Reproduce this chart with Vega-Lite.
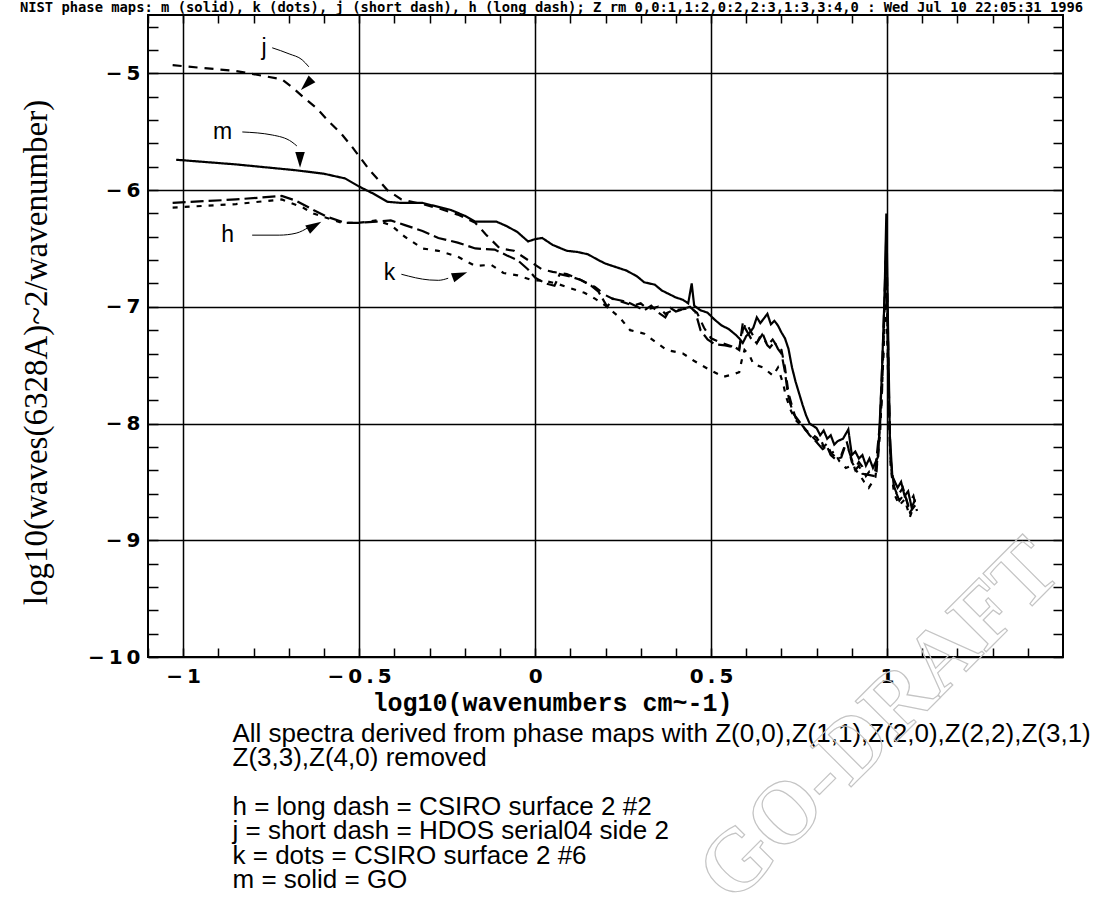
{
  "$schema": "https://vega.github.io/schema/vega-lite/v6.json",
  "width": 915,
  "height": 642,
  "autosize": {"type": "none"},
  "padding": {"left": 148, "top": 15, "right": 41, "bottom": 247},
  "background": "white",
  "config": {"view": {"stroke": "black", "strokeWidth": 2}, "axis": {"domain": false}},
  "datasets": {
    "spectra": [
      {"series":"m","x":-1.02,"y":-5.74},{"series":"m","x":-0.85,"y":-5.78},{"series":"m","x":-0.68,"y":-5.83},{"series":"m","x":-0.6,"y":-5.86},{"series":"m","x":-0.54,"y":-5.9},{"series":"m","x":-0.5,"y":-5.97},{"series":"m","x":-0.46,"y":-6.03},{"series":"m","x":-0.42,"y":-6.1},{"series":"m","x":-0.38,"y":-6.11},{"series":"m","x":-0.32,"y":-6.11},{"series":"m","x":-0.28,"y":-6.14},{"series":"m","x":-0.24,"y":-6.17},{"series":"m","x":-0.2,"y":-6.22},{"series":"m","x":-0.17,"y":-6.27},{"series":"m","x":-0.11,"y":-6.27},{"series":"m","x":-0.08,"y":-6.31},{"series":"m","x":-0.05,"y":-6.36},{"series":"m","x":-0.02,"y":-6.44},{"series":"m","x":0.0,"y":-6.42},{"series":"m","x":0.02,"y":-6.41},{"series":"m","x":0.05,"y":-6.47},{"series":"m","x":0.09,"y":-6.52},{"series":"m","x":0.12,"y":-6.53},{"series":"m","x":0.15,"y":-6.55},{"series":"m","x":0.18,"y":-6.6},{"series":"m","x":0.2,"y":-6.63},{"series":"m","x":0.23,"y":-6.66},{"series":"m","x":0.26,"y":-6.69},{"series":"m","x":0.29,"y":-6.74},{"series":"m","x":0.31,"y":-6.79},{"series":"m","x":0.34,"y":-6.81},{"series":"m","x":0.36,"y":-6.86},{"series":"m","x":0.38,"y":-6.89},{"series":"m","x":0.4,"y":-6.92},{"series":"m","x":0.42,"y":-6.94},{"series":"m","x":0.435,"y":-6.97},{"series":"m","x":0.445,"y":-6.8},{"series":"m","x":0.452,"y":-6.99},{"series":"m","x":0.47,"y":-7.03},{"series":"m","x":0.49,"y":-7.05},{"series":"m","x":0.51,"y":-7.11},{"series":"m","x":0.53,"y":-7.16},{"series":"m","x":0.55,"y":-7.19},{"series":"m","x":0.57,"y":-7.24},{"series":"m","x":0.58,"y":-7.27},{"series":"m","x":0.59,"y":-7.31},{"series":"m","x":0.6,"y":-7.25},{"series":"m","x":0.61,"y":-7.22},{"series":"m","x":0.62,"y":-7.18},{"series":"m","x":0.63,"y":-7.09},{"series":"m","x":0.64,"y":-7.14},{"series":"m","x":0.65,"y":-7.1},{"series":"m","x":0.66,"y":-7.06},{"series":"m","x":0.67,"y":-7.15},{"series":"m","x":0.68,"y":-7.12},{"series":"m","x":0.69,"y":-7.16},{"series":"m","x":0.7,"y":-7.22},{"series":"m","x":0.71,"y":-7.27},{"series":"m","x":0.72,"y":-7.36},{"series":"m","x":0.73,"y":-7.52},{"series":"m","x":0.74,"y":-7.64},{"series":"m","x":0.75,"y":-7.74},{"series":"m","x":0.76,"y":-7.84},{"series":"m","x":0.77,"y":-7.93},{"series":"m","x":0.78,"y":-8.0},{"series":"m","x":0.8,"y":-8.04},{"series":"m","x":0.81,"y":-8.1},{"series":"m","x":0.82,"y":-8.06},{"series":"m","x":0.83,"y":-8.13},{"series":"m","x":0.84,"y":-8.1},{"series":"m","x":0.85,"y":-8.18},{"series":"m","x":0.86,"y":-8.15},{"series":"m","x":0.875,"y":-8.13},{"series":"m","x":0.89,"y":-8.05},{"series":"m","x":0.9,"y":-8.27},{"series":"m","x":0.91,"y":-8.24},{"series":"m","x":0.92,"y":-8.3},{"series":"m","x":0.93,"y":-8.27},{"series":"m","x":0.94,"y":-8.36},{"series":"m","x":0.95,"y":-8.3},{"series":"m","x":0.96,"y":-8.38},{"series":"m","x":0.975,"y":-8.28},{"series":"m","x":0.985,"y":-7.6},{"series":"m","x":0.993,"y":-6.9},{"series":"m","x":0.998,"y":-6.2},{"series":"m","x":1.003,"y":-7.2},{"series":"m","x":1.008,"y":-8.1},{"series":"m","x":1.015,"y":-8.45},{"series":"m","x":1.03,"y":-8.55},{"series":"m","x":1.04,"y":-8.5},{"series":"m","x":1.05,"y":-8.62},{"series":"m","x":1.06,"y":-8.58},{"series":"m","x":1.07,"y":-8.72},{"series":"m","x":1.08,"y":-8.65},
      {"series":"j","x":-1.03,"y":-4.93},{"series":"j","x":-0.85,"y":-4.98},{"series":"j","x":-0.72,"y":-5.05},{"series":"j","x":-0.69,"y":-5.12},{"series":"j","x":-0.66,"y":-5.2},{"series":"j","x":-0.62,"y":-5.3},{"series":"j","x":-0.59,"y":-5.4},{"series":"j","x":-0.55,"y":-5.52},{"series":"j","x":-0.52,"y":-5.63},{"series":"j","x":-0.49,"y":-5.75},{"series":"j","x":-0.47,"y":-5.83},{"series":"j","x":-0.44,"y":-5.93},{"series":"j","x":-0.42,"y":-6.0},{"series":"j","x":-0.38,"y":-6.08},{"series":"j","x":-0.32,"y":-6.12},{"series":"j","x":-0.27,"y":-6.16},{"series":"j","x":-0.22,"y":-6.21},{"series":"j","x":-0.17,"y":-6.28},{"series":"j","x":-0.14,"y":-6.38},{"series":"j","x":-0.1,"y":-6.5},{"series":"j","x":-0.06,"y":-6.52},{"series":"j","x":-0.02,"y":-6.6},{"series":"j","x":0.02,"y":-6.68},{"series":"j","x":0.05,"y":-6.7},{"series":"j","x":0.09,"y":-6.72},{"series":"j","x":0.13,"y":-6.77},{"series":"j","x":0.17,"y":-6.83},{"series":"j","x":0.2,"y":-6.9},{"series":"j","x":0.22,"y":-6.93},{"series":"j","x":0.25,"y":-6.96},{"series":"j","x":0.28,"y":-6.99},{"series":"j","x":0.3,"y":-6.97},{"series":"j","x":0.32,"y":-7.02},{"series":"j","x":0.35,"y":-7.0},{"series":"j","x":0.37,"y":-7.06},{"series":"j","x":0.39,"y":-7.03},{"series":"j","x":0.42,"y":-7.02},{"series":"j","x":0.44,"y":-7.01},{"series":"j","x":0.46,"y":-7.05},{"series":"j","x":0.48,"y":-7.18},{"series":"j","x":0.5,"y":-7.27},{"series":"j","x":0.53,"y":-7.31},{"series":"j","x":0.56,"y":-7.34},{"series":"j","x":0.58,"y":-7.36},{"series":"j","x":0.59,"y":-7.2},{"series":"j","x":0.6,"y":-7.14},{"series":"j","x":0.62,"y":-7.25},{"series":"j","x":0.63,"y":-7.31},{"series":"j","x":0.645,"y":-7.22},{"series":"j","x":0.66,"y":-7.33},{"series":"j","x":0.675,"y":-7.28},{"series":"j","x":0.69,"y":-7.35},{"series":"j","x":0.7,"y":-7.37},{"series":"j","x":0.71,"y":-7.52},{"series":"j","x":0.72,"y":-7.74},{"series":"j","x":0.73,"y":-7.85},{"series":"j","x":0.74,"y":-7.95},{"series":"j","x":0.76,"y":-8.02},{"series":"j","x":0.78,"y":-8.09},{"series":"j","x":0.8,"y":-8.15},{"series":"j","x":0.81,"y":-8.12},{"series":"j","x":0.82,"y":-8.2},{"series":"j","x":0.83,"y":-8.17},{"series":"j","x":0.84,"y":-8.25},{"series":"j","x":0.855,"y":-8.29},{"series":"j","x":0.87,"y":-8.27},{"series":"j","x":0.885,"y":-8.15},{"series":"j","x":0.9,"y":-8.33},{"series":"j","x":0.91,"y":-8.38},{"series":"j","x":0.92,"y":-8.33},{"series":"j","x":0.93,"y":-8.37},{"series":"j","x":0.94,"y":-8.45},{"series":"j","x":0.95,"y":-8.41},{"series":"j","x":0.97,"y":-8.42},{"series":"j","x":0.985,"y":-7.8},{"series":"j","x":0.993,"y":-7.0},{"series":"j","x":0.998,"y":-6.35},{"series":"j","x":1.003,"y":-7.3},{"series":"j","x":1.008,"y":-8.2},{"series":"j","x":1.015,"y":-8.5},{"series":"j","x":1.03,"y":-8.62},{"series":"j","x":1.045,"y":-8.55},{"series":"j","x":1.06,"y":-8.7},{"series":"j","x":1.075,"y":-8.62},{"series":"j","x":1.085,"y":-8.75},
      {"series":"h","x":-1.03,"y":-6.11},{"series":"h","x":-0.85,"y":-6.08},{"series":"h","x":-0.72,"y":-6.05},{"series":"h","x":-0.68,"y":-6.09},{"series":"h","x":-0.63,"y":-6.17},{"series":"h","x":-0.59,"y":-6.23},{"series":"h","x":-0.54,"y":-6.28},{"series":"h","x":-0.5,"y":-6.28},{"series":"h","x":-0.45,"y":-6.27},{"series":"h","x":-0.41,"y":-6.26},{"series":"h","x":-0.37,"y":-6.3},{"series":"h","x":-0.32,"y":-6.35},{"series":"h","x":-0.275,"y":-6.41},{"series":"h","x":-0.22,"y":-6.45},{"series":"h","x":-0.17,"y":-6.5},{"series":"h","x":-0.115,"y":-6.51},{"series":"h","x":-0.08,"y":-6.56},{"series":"h","x":-0.05,"y":-6.6},{"series":"h","x":-0.02,"y":-6.68},{"series":"h","x":0.0,"y":-6.75},{"series":"h","x":0.03,"y":-6.8},{"series":"h","x":0.055,"y":-6.82},{"series":"h","x":0.07,"y":-6.72},{"series":"h","x":0.1,"y":-6.74},{"series":"h","x":0.13,"y":-6.77},{"series":"h","x":0.16,"y":-6.82},{"series":"h","x":0.18,"y":-6.87},{"series":"h","x":0.205,"y":-7.0},{"series":"h","x":0.22,"y":-6.93},{"series":"h","x":0.25,"y":-6.95},{"series":"h","x":0.27,"y":-6.97},{"series":"h","x":0.29,"y":-7.0},{"series":"h","x":0.31,"y":-7.03},{"series":"h","x":0.33,"y":-6.99},{"series":"h","x":0.35,"y":-7.05},{"series":"h","x":0.37,"y":-7.09},{"series":"h","x":0.385,"y":-7.01},{"series":"h","x":0.4,"y":-7.04},{"series":"h","x":0.42,"y":-7.02},{"series":"h","x":0.44,"y":-7.0},{"series":"h","x":0.455,"y":-7.04},{"series":"h","x":0.47,"y":-7.2},{"series":"h","x":0.49,"y":-7.28},{"series":"h","x":0.51,"y":-7.32},{"series":"h","x":0.54,"y":-7.33},{"series":"h","x":0.57,"y":-7.35},{"series":"h","x":0.58,"y":-7.37},{"series":"h","x":0.585,"y":-7.25},{"series":"h","x":0.59,"y":-7.14},{"series":"h","x":0.6,"y":-7.2},{"series":"h","x":0.615,"y":-7.28},{"series":"h","x":0.63,"y":-7.31},{"series":"h","x":0.645,"y":-7.24},{"series":"h","x":0.66,"y":-7.33},{"series":"h","x":0.667,"y":-7.35},{"series":"h","x":0.68,"y":-7.3},{"series":"h","x":0.69,"y":-7.36},{"series":"h","x":0.7,"y":-7.4},{"series":"h","x":0.71,"y":-7.56},{"series":"h","x":0.718,"y":-7.74},{"series":"h","x":0.725,"y":-7.83},{"series":"h","x":0.735,"y":-7.92},{"series":"h","x":0.75,"y":-7.98},{"series":"h","x":0.78,"y":-8.1},{"series":"h","x":0.8,"y":-8.16},{"series":"h","x":0.817,"y":-8.22},{"series":"h","x":0.83,"y":-8.2},{"series":"h","x":0.84,"y":-8.27},{"series":"h","x":0.855,"y":-8.31},{"series":"h","x":0.87,"y":-8.29},{"series":"h","x":0.88,"y":-8.2},{"series":"h","x":0.89,"y":-8.22},{"series":"h","x":0.91,"y":-8.4},{"series":"h","x":0.92,"y":-8.36},{"series":"h","x":0.93,"y":-8.43},{"series":"h","x":0.948,"y":-8.44},{"series":"h","x":0.965,"y":-8.45},{"series":"h","x":0.98,"y":-8.0},{"series":"h","x":0.99,"y":-7.2},{"series":"h","x":0.997,"y":-6.5},{"series":"h","x":1.003,"y":-7.5},{"series":"h","x":1.01,"y":-8.3},{"series":"h","x":1.02,"y":-8.55},{"series":"h","x":1.035,"y":-8.66},{"series":"h","x":1.05,"y":-8.6},{"series":"h","x":1.065,"y":-8.76},{"series":"h","x":1.08,"y":-8.7},
      {"series":"k","x":-1.03,"y":-6.15},{"series":"k","x":-0.85,"y":-6.12},{"series":"k","x":-0.72,"y":-6.08},{"series":"k","x":-0.66,"y":-6.15},{"series":"k","x":-0.63,"y":-6.2},{"series":"k","x":-0.58,"y":-6.25},{"series":"k","x":-0.55,"y":-6.28},{"series":"k","x":-0.5,"y":-6.28},{"series":"k","x":-0.45,"y":-6.26},{"series":"k","x":-0.41,"y":-6.3},{"series":"k","x":-0.37,"y":-6.4},{"series":"k","x":-0.32,"y":-6.5},{"series":"k","x":-0.275,"y":-6.52},{"series":"k","x":-0.22,"y":-6.57},{"series":"k","x":-0.17,"y":-6.65},{"series":"k","x":-0.125,"y":-6.64},{"series":"k","x":-0.09,"y":-6.71},{"series":"k","x":-0.05,"y":-6.73},{"series":"k","x":-0.01,"y":-6.77},{"series":"k","x":0.03,"y":-6.78},{"series":"k","x":0.06,"y":-6.8},{"series":"k","x":0.1,"y":-6.84},{"series":"k","x":0.14,"y":-6.88},{"series":"k","x":0.17,"y":-6.93},{"series":"k","x":0.2,"y":-6.99},{"series":"k","x":0.22,"y":-7.04},{"series":"k","x":0.24,"y":-7.09},{"series":"k","x":0.27,"y":-7.2},{"series":"k","x":0.31,"y":-7.23},{"series":"k","x":0.337,"y":-7.29},{"series":"k","x":0.374,"y":-7.37},{"series":"k","x":0.42,"y":-7.4},{"series":"k","x":0.45,"y":-7.46},{"series":"k","x":0.496,"y":-7.54},{"series":"k","x":0.535,"y":-7.6},{"series":"k","x":0.56,"y":-7.58},{"series":"k","x":0.58,"y":-7.56},{"series":"k","x":0.587,"y":-7.46},{"series":"k","x":0.595,"y":-7.37},{"series":"k","x":0.61,"y":-7.42},{"series":"k","x":0.62,"y":-7.49},{"series":"k","x":0.648,"y":-7.52},{"series":"k","x":0.676,"y":-7.59},{"series":"k","x":0.69,"y":-7.52},{"series":"k","x":0.705,"y":-7.66},{"series":"k","x":0.713,"y":-7.77},{"series":"k","x":0.727,"y":-7.89},{"series":"k","x":0.74,"y":-7.97},{"series":"k","x":0.77,"y":-8.06},{"series":"k","x":0.8,"y":-8.12},{"series":"k","x":0.82,"y":-8.2},{"series":"k","x":0.835,"y":-8.26},{"series":"k","x":0.85,"y":-8.24},{"series":"k","x":0.864,"y":-8.32},{"series":"k","x":0.883,"y":-8.38},{"series":"k","x":0.9,"y":-8.36},{"series":"k","x":0.92,"y":-8.43},{"series":"k","x":0.935,"y":-8.5},{"series":"k","x":0.948,"y":-8.55},{"series":"k","x":0.967,"y":-8.46},{"series":"k","x":0.98,"y":-8.1},{"series":"k","x":0.99,"y":-7.4},{"series":"k","x":0.997,"y":-6.8},{"series":"k","x":1.003,"y":-7.6},{"series":"k","x":1.01,"y":-8.35},{"series":"k","x":1.02,"y":-8.6},{"series":"k","x":1.035,"y":-8.7},{"series":"k","x":1.05,"y":-8.65},{"series":"k","x":1.065,"y":-8.8},{"series":"k","x":1.075,"y":-8.72}
    ],
    "leaders": [
      {"label":"j","x":-0.747,"y":-4.781},{"label":"j","x":-0.699,"y":-4.833},{"label":"j","x":-0.662,"y":-4.884},{"label":"j","x":-0.643,"y":-4.944},
      {"label":"m","x":-0.832,"y":-5.502},{"label":"m","x":-0.747,"y":-5.528},{"label":"m","x":-0.691,"y":-5.588},{"label":"m","x":-0.677,"y":-5.622},
      {"label":"h","x":-0.804,"y":-6.386},{"label":"h","x":-0.727,"y":-6.386},{"label":"h","x":-0.679,"y":-6.369},{"label":"h","x":-0.643,"y":-6.318},
      {"label":"k","x":-0.38,"y":-6.721},{"label":"k","x":-0.3,"y":-6.77},{"label":"k","x":-0.275,"y":-6.773},{"label":"k","x":-0.247,"y":-6.755}
    ],
    "labels": [
      {"label":"j","x":-0.77,"y":-4.78},
      {"label":"m","x":-0.888,"y":-5.502},
      {"label":"h","x":-0.874,"y":-6.386},
      {"label":"k","x":-0.414,"y":-6.712}
    ],
    "arrows": [
      {"label":"j","x":-0.648,"y":-5.09},
      {"label":"m","x":-0.668,"y":-5.734},
      {"label":"h","x":-0.629,"y":-6.309},
      {"label":"k","x":-0.216,"y":-6.73}
    ],
    "watermark": [
      {"text":"GO-DRAFT","x":0.98,"y":-10.55}
    ]
  },
  "layer": [
    {
      "data": {"name": "watermark"},
      "mark": {"type": "text", "font": "Liberation Serif", "fontWeight": "bold", "fontSize": 88, "angle": -45, "align": "center", "baseline": "middle", "fill": "transparent", "stroke": "#c4c4c4", "strokeWidth": 1.2},
      "encoding": {
        "x": {"field": "x", "type": "quantitative", "scale": {"domain": [-1.1, 1.5], "nice": false, "zero": false},
          "axis": {"orient": "bottom", "ticks": false, "labels": false, "grid": false, "domain": false, "values": [],
            "title": ["h = long dash = CSIRO surface 2 #2", "j = short dash = HDOS serial04 side 2", "k = dots = CSIRO surface 2 #6", "m = solid = GO"],
            "titleFont": "Liberation Sans", "titleFontSize": 26, "titleFontWeight": "normal", "titleColor": "black", "titleLineHeight": 24.5,
            "titleX": 84, "titleY": 136, "titleAlign": "left", "titleBaseline": "top", "titleAnchor": "start"}},
        "y": {"field": "y", "type": "quantitative", "scale": {"domain": [-10, -4.5], "nice": false, "zero": false}, "axis": null},
        "text": {"field": "text"}
      }
    },
    {
      "data": {"name": "spectra"},
      "mark": {"type": "line", "color": "black", "strokeWidth": 2.2, "clip": true},
      "encoding": {
        "x": {"field": "x", "type": "quantitative", "scale": {"domain": [-1.1, 1.5], "nice": false, "zero": false},
          "axis": {"orient": "bottom", "values": [-1, -0.5, 0, 0.5, 1], "format": "~r", "grid": true, "gridColor": "black", "gridWidth": 1.5, "gridOpacity": 1, "ticks": false, "domain": false,
            "labelFont": "DejaVu Sans", "labelFontWeight": "bold", "labelFontSize": 20, "labelColor": "black", "labelPadding": 9,
            "labelExpr": "replace(datum.label, regexp('(.)(?=.)', 'g'), '$1\u2009')",
            "title": "log10(wavenumbers cm~-1)", "titleFont": "Liberation Mono", "titleFontSize": 25, "titleFontWeight": "bold", "titleColor": "black",
            "titleX": 404, "titleY": 53, "titleBaseline": "alphabetic", "titleAlign": "center"}},
        "y": {"field": "y", "type": "quantitative", "scale": {"domain": [-10, -4.5], "nice": false, "zero": false},
          "axis": {"orient": "left", "values": [-10, -9, -8, -7, -6, -5], "format": "~r", "grid": true, "gridColor": "black", "gridWidth": 1.5, "gridOpacity": 1, "ticks": false, "domain": false,
            "labelFont": "DejaVu Sans", "labelFontWeight": "bold", "labelFontSize": 20, "labelColor": "black", "labelPadding": 8,
            "labelExpr": "replace(datum.label, regexp('(.)(?=.)', 'g'), '$1\u2009')",
            "title": "log10(waves(6328A)~2/wavenumber)", "titleFont": "Liberation Serif", "titleFontSize": 33, "titleFontWeight": "normal", "titleColor": "black",
            "titleX": -112, "titleY": 337, "titleBaseline": "middle", "titleAlign": "center", "titleAngle": -90}},
        "strokeDash": {"field": "series", "type": "nominal", "scale": {"domain": ["h", "j", "k", "m"], "range": [[13, 5], [9, 7], [5, 7], [1, 0]]}, "legend": null},
        "detail": {"field": "series"}
      }
    },
    {
      "data": {"name": "leaders"},
      "mark": {"type": "line", "color": "black", "strokeWidth": 1, "interpolate": "monotone"},
      "encoding": {
        "x": {"field": "x", "type": "quantitative", "scale": {"domain": [-1.1, 1.5], "nice": false, "zero": false},
          "axis": {"orient": "bottom", "values": [-1.1,-1,-0.9,-0.8,-0.7,-0.6,-0.5,-0.4,-0.3,-0.2,-0.1,0,0.1,0.2,0.3,0.4,0.5,0.6,0.7,0.8,0.9,1,1.1,1.2,1.3,1.4], "labels": false, "grid": false, "ticks": true, "tickSize": -9, "tickColor": "black", "tickWidth": 1.5, "domain": false,
            "title": ["All spectra derived from phase maps with Z(0,0),Z(1,1),Z(2,0),Z(2,2),Z(3,1)", "Z(3,3),Z(4,0) removed"],
            "titleFont": "Liberation Sans", "titleFontSize": 26, "titleFontWeight": "normal", "titleColor": "black", "titleLineHeight": 24.5,
            "titleX": 84, "titleY": 63, "titleAlign": "left", "titleBaseline": "top", "titleAnchor": "start"}},
        "y": {"field": "y", "type": "quantitative", "scale": {"domain": [-10, -4.5], "nice": false, "zero": false},
          "axis": {"orient": "left", "values": [-10,-9.8,-9.6,-9.4,-9.2,-9,-8.8,-8.6,-8.4,-8.2,-8,-7.8,-7.6,-7.4,-7.2,-7,-6.8,-6.6,-6.4,-6.2,-6,-5.8,-5.6,-5.4,-5.2,-5,-4.8,-4.6], "labels": false, "grid": false, "ticks": true, "tickSize": -10, "tickColor": "black", "tickWidth": 1.5, "domain": false, "title": null}},
        "detail": {"field": "label"}
      }
    },
    {
      "data": {"name": "labels"},
      "mark": {"type": "text", "font": "Liberation Sans", "fontSize": 23, "color": "black", "align": "center", "baseline": "middle"},
      "encoding": {
        "x": {"field": "x", "type": "quantitative", "scale": {"domain": [-1.1, 1.5], "nice": false, "zero": false},
          "axis": {"orient": "top", "values": [-1.1,-1,-0.9,-0.8,-0.7,-0.6,-0.5,-0.4,-0.3,-0.2,-0.1,0,0.1,0.2,0.3,0.4,0.5,0.6,0.7,0.8,0.9,1,1.1,1.2,1.3,1.4], "labels": false, "grid": false, "ticks": true, "tickSize": -8, "tickColor": "black", "tickWidth": 1.5, "domain": false,
            "title": "NIST phase maps: m (solid), k (dots), j (short dash), h (long dash); Z rm 0,0:1,1:2,0:2,2:3,1:3,3:4,0 : Wed Jul 10 22:05:31 1996",
            "titleFont": "DejaVu Sans Mono", "titleFontSize": 13.8, "titleFontWeight": "bold", "titleColor": "black", "titleX": 403, "titleY": -4, "titleBaseline": "alphabetic", "titleAlign": "center"}},
        "y": {"field": "y", "type": "quantitative", "scale": {"domain": [-10, -4.5], "nice": false, "zero": false},
          "axis": {"orient": "right", "values": [-10,-9.8,-9.6,-9.4,-9.2,-9,-8.8,-8.6,-8.4,-8.2,-8,-7.8,-7.6,-7.4,-7.2,-7,-6.8,-6.6,-6.4,-6.2,-6,-5.8,-5.6,-5.4,-5.2,-5,-4.8,-4.6], "labels": false, "grid": false, "ticks": true, "tickSize": -10, "tickColor": "black", "tickWidth": 1.5, "domain": false, "title": null}},
        "text": {"field": "label"}
      }
    },
    {
      "data": {"name": "arrows"},
      "mark": {"type": "point", "filled": true, "color": "black", "opacity": 1, "size": 300},
      "encoding": {
        "x": {"field": "x", "type": "quantitative", "scale": {"domain": [-1.1, 1.5], "nice": false, "zero": false}, "axis": null},
        "y": {"field": "y", "type": "quantitative", "scale": {"domain": [-10, -4.5], "nice": false, "zero": false}, "axis": null},
        "shape": {"field": "label", "type": "nominal", "scale": {"domain": ["j", "m", "h", "k"], "range": ["M-0.71,0.71L0.18,-0.96L0.96,-0.18Z", "M0,1L-0.55,-0.8L0.55,-0.8Z", "M0.87,-0.5L-0.43,0.88L-0.98,-0.08Z", "M0.94,-0.34L-0.56,0.79L-0.94,-0.25Z"]}, "legend": null}
      }
    }
  ],
  "resolve": {"axis": {"x": "independent", "y": "independent"}}
}
